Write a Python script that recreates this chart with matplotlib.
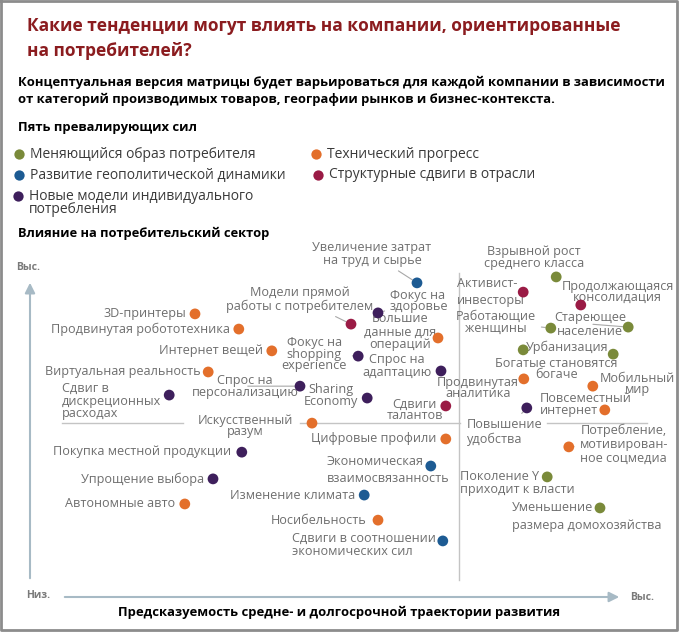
import matplotlib.pyplot as plt

plt.rcParams['font.family'] = ['Open Sans', 'DejaVu Sans']

W, H = 679, 633

# five prevailing forces
forces = ["Меняющийся образ потребителя", "Развитие геополитической динамики",
          "Новые модели индивидуального\nпотребления", "Технический прогресс",
          "Структурные сдвиги в отрасли"]
force_colors = ["#7a8a3a", "#1d5b93", "#3e1f5c", "#e36f2b", "#9a1b45"]

# trends: label, force index, predictability (x, 0-10), impact (y, 0-10)
trend_labels = [
    "3D-принтеры", "Продвинутая робототехника", "Интернет вещей", "Виртуальная реальность",
    "Сдвиг в\nдискреционных\nрасходах", "Спрос на\nперсонализацию", "Искусственный\nразум",
    "Покупка местной продукции", "Упрощение выбора", "Автономные авто",
    "Увеличение затрат\nна труд и сырье", "Модели прямой\nработы с потребителем",
    "Фокус на\nздоровье", "Большие\nданные для\nопераций", "Фокус на\nshopping\nexperience",
    "Спрос на\nадаптацию", "Sharing\nEconomy", "Сдвиги\nталантов", "Цифровые профили",
    "Экономическая\nвзаимосвязанность", "Изменение климата", "Носибельность",
    "Сдвиги в соотношении\nэкономических сил", "Взрывной рост\nсреднего класса",
    "Активист-\nинвесторы", "Продолжающаяся\nконсолидация", "Работающие\nженщины",
    "Стареющее\nнаселение", "Богатые становятся\nбогаче", "Урбанизация",
    "Продвинутая\nаналитика", "Мобильный\nмир", "Повсеместный\nинтернет",
    "Повышение\nудобства", "Потребление,\nмотивирован-\nное соцмедиа",
    "Поколение Y\nприходит к власти", "Уменьшение\nразмера домохозяйства"]
trend_force = [3, 3, 3, 3, 2, 2, 3, 2, 2, 3,
               1, 4, 2, 3, 2, 2, 2, 4, 3, 1, 1, 3, 1,
               0, 4, 4, 0, 0, 0, 0, 3, 3, 3, 2, 3, 0, 0]
predictability = [2.75, 3.48, 4.03, 2.97, 2.32, 4.50, 4.70, 3.53, 3.05, 2.58,
                  6.45, 5.35, 5.80, 6.80, 5.47, 6.85, 5.62, 6.93, 6.93, 6.68, 5.57, 5.80, 6.88,
                  8.77, 8.22, 9.18, 8.68, 9.97, 8.22, 9.72, 8.23, 9.38, 9.58, 8.28, 8.98, 8.62, 9.50]
impact = [8.67, 8.21, 7.55, 6.91, 6.21, 6.48, 5.36, 4.48, 3.67, 2.91,
          9.61, 8.36, 8.70, 7.94, 7.39, 6.94, 6.12, 5.88, 4.88, 4.06, 3.18, 2.42, 1.79,
          9.79, 9.33, 8.94, 8.24, 8.27, 7.58, 7.45, 6.70, 6.48, 5.76, 5.82, 4.64, 3.73, 2.79]

# label layout: offset from dot in pixels (dx, dy down), alignment, leader line, line spacing
layout = [
    (-9, 0, 'right', False, 1.0), (-9, 0, 'right', False, 1.0), (-9, 0, 'right', False, 1.0),
    (-8, 0, 'right', False, 1.0), (-107, 6, 'left', False, 0.95), (-55, 0, 'center', True, 0.9),
    (-67, 3, 'center', False, 0.85), (-11, -1, 'right', False, 1.0), (-9, 0, 'right', False, 1.0),
    (-10, 0, 'right', False, 1.0),
    (-45, -29, 'center', True, 0.95), (-51, -25, 'center', True, 1.05), (12, -12, 'left', True, 0.85),
    (-38, -6, 'center', False, 1.0), (-44, -2, 'center', True, 0.85), (-44, -5, 'center', False, 0.9),
    (-36, -3, 'center', True, 0.9), (-31, 4, 'center', False, 0.85), (-9, 0, 'right', False, 1.0),
    (-104, 4, 'left', False, 1.45), (-9, 0, 'right', False, 1.0), (-11, 0, 'right', False, 1.0),
    (-151, 4, 'left', False, 1.1),
    (-22, -19, 'center', True, 0.9), (-66, 0, 'left', False, 1.35), (93, -13, 'right', False, 0.85),
    (-55, -6, 'center', True, 0.9), (-38, -3, 'center', True, 1.1), (33, 19, 'center', True, 0.85),
    (-5, -7, 'right', False, 1.0), (-5, 9, 'right', False, 0.8), (45, -2, 'center', True, 0.85),
    (-65, -5, 'left', False, 0.9), (-60, 24, 'left', True, 1.1), (55, -3, 'center', True, 1.1),
    (-87, 6, 'left', False, 1.05), (-88, 9, 'left', False, 1.5)]

fig = plt.figure(figsize=(W / 100, H / 100), dpi=100)

# decoration layer in pixel coordinates
deco = fig.add_axes([0, 0, 1, 1])
deco.set_xlim(0, W)
deco.set_ylim(H, 0)
deco.axis('off')

deco.plot([1, W - 2, W - 2, 1, 1], [1, 1, H - 3, H - 3, 1], color='#8c8c8c', lw=2)

title_color = '#8b1c1f'
deco.text(27, 26, "Какие тенденции могут влиять на компании, ориентированные", color=title_color,
          fontsize=12.5, fontweight='bold', va='center')
deco.text(27, 51, "на потребителей?", color=title_color, fontsize=12.5, fontweight='bold', va='center')
deco.text(18, 82, "Концептуальная версия матрицы будет варьироваться для каждой компании в зависимости",
          fontsize=9.33, fontweight='bold', va='center')
deco.text(18, 99, "от категорий производимых товаров, географии рынков и бизнес-контекста.",
          fontsize=9.33, fontweight='bold', va='center')
deco.text(18, 128, "Пять превалирующих сил", fontsize=9.4, fontweight='bold', va='center')

legend_pos = [(19, 154), (19, 175), (18, 196), (316, 154), (318, 175)]
for name, col, (lx, ly) in zip(forces, force_colors, legend_pos):
    deco.scatter(lx, ly, s=55, color=col, clip_on=False, linewidths=0)
    deco.text(lx + 11, ly + (7 if '\n' in name else 0), name, fontsize=10, color='#3a3a3a',
              va='center', linespacing=0.85)

deco.text(18, 233, "Влияние на потребительский сектор", fontsize=9.3, fontweight='bold', va='center')

axis_col = '#a7bac5'
deco.annotate('', xy=(30, 280), xytext=(30, 581),
              arrowprops=dict(arrowstyle='-|>,head_length=0.6,head_width=0.3', color=axis_col, lw=1.5))
deco.annotate('', xy=(622, 597), xytext=(62, 597),
              arrowprops=dict(arrowstyle='-|>,head_length=0.6,head_width=0.3', color=axis_col, lw=1.5))
deco.text(28, 268, "Выс.", fontsize=7.5, fontweight='bold', color='#7a7a7a', ha='center', va='center')
deco.text(38, 596, "Низ.", fontsize=7.5, fontweight='bold', color='#7a7a7a', ha='center', va='center')
deco.text(630, 597, "Выс.", fontsize=7.5, fontweight='bold', color='#7a7a7a', va='center')
deco.text(339, 612, "Предсказуемость средне- и долгосрочной траектории развития",
          fontsize=9.4, fontweight='bold', ha='center', va='center')

grid_col = '#c4c4c4'
for x0, x1 in [(62, 183), (300, 460), (547, 647)]:
    deco.plot([x0, x1], [423, 423], color=grid_col, lw=1)
deco.plot([459, 459], [273, 580], color=grid_col, lw=1)

# data layer
ax = fig.add_axes([30 / W, (H - 600) / H, 600 / W, 330 / H])
ax.set_xlim(0, 10)
ax.set_ylim(0, 10)
ax.axis('off')
ax.patch.set_alpha(0)

ax.scatter(predictability, impact, s=60, c=[force_colors[f] for f in trend_force],
           zorder=5, clip_on=False, linewidths=0)

label_col = '#6e6e6e'
for lab, x, y, (dx, dy, ha, leader, ls) in zip(trend_labels, predictability, impact, layout):
    arrow = dict(arrowstyle='-', color='#a8a8a8', lw=0.8, shrinkB=4) if leader else None
    ax.annotate(lab, (x, y), xytext=(dx, -dy), textcoords='offset pixels', ha=ha, va='center',
                multialignment='center' if ha != 'left' else 'left', fontsize=9.05,
                color=label_col, linespacing=ls, arrowprops=arrow, annotation_clip=False)

fig.savefig('out.png', dpi=100)
